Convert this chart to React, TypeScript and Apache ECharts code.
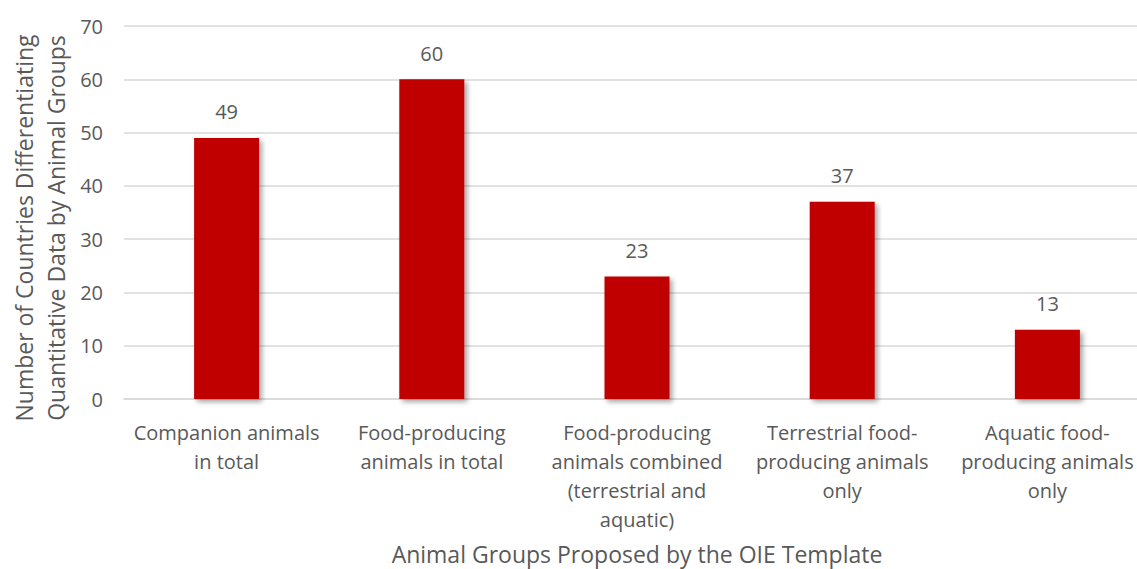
import React, { useEffect, useRef } from "react";
import * as echarts from "echarts";

const categories = [
  "Companion animals\nin total",
  "Food-producing\nanimals in total",
  "Food-producing\nanimals combined\n(terrestrial and\naquatic)",
  "Terrestrial food-\nproducing animals\nonly",
  "Aquatic food-\nproducing animals\nonly",
];
const values = [49, 60, 23, 37, 13];
const yTitle = "Number of Countries Differentiating\nQuantitative Data by Animal Groups";
const xTitle = "Animal Groups Proposed by the OIE Template";

const FONT = "'Open Sans', 'Liberation Sans', sans-serif";
const TXT = "#595959";

export default function App() {
  const ref = useRef<HTMLDivElement>(null);
  useEffect(() => {
    const chart = echarts.init(ref.current!, null, { renderer: "svg" });
    chart.setOption({
      animation: false,
      grid: { left: 124, top: 26, width: 1026, height: 373, containLabel: false, outerBoundsMode: "none" },
      graphic: [
        {
          type: "text",
          x: 40,
          y: 228,
          rotation: Math.PI / 2,
          style: {
            text: yTitle,
            fill: TXT,
            font: `23px ${FONT}`,
            fontFamily: FONT,
            fontSize: 23,
            lineHeight: 32,
            align: "center",
            verticalAlign: "middle",
          },
        },
      ],
      xAxis: {
        type: "category",
        data: categories,
        axisLine: { lineStyle: { color: "#d9d9d9", width: 1.5 } },
        axisTick: { show: false },
        axisLabel: {
          interval: 0,
          color: TXT,
          fontFamily: FONT,
          fontSize: 20,
          lineHeight: 29,
          margin: 19,
          hideOverlap: false,
        },
        name: xTitle,
        nameLocation: "middle",
        nameGap: 143,
        nameTextStyle: { color: TXT, fontFamily: FONT, fontSize: 23 },
      },
      yAxis: {
        type: "value",
        min: 0,
        max: 70,
        interval: 10,
        axisLine: { show: false },
        axisTick: { show: false },
        splitLine: { lineStyle: { color: "#d9d9d9", width: 1.5 } },
        axisLabel: { color: TXT, fontFamily: FONT, fontSize: 20, margin: 21 },
      },
      series: [
        {
          type: "bar",
          data: values,
          barWidth: 65,
          itemStyle: {
            color: "#c00000",
            shadowBlur: 5,
            shadowOffsetX: 3,
            shadowOffsetY: 3,
            shadowColor: "rgba(0,0,0,0.35)",
          },
          label: {
            show: true,
            position: "top",
            distance: 16,
            color: TXT,
            fontFamily: FONT,
            fontSize: 20,
          },
        },
      ],
    });
    return () => chart.dispose();
  }, []);
  return (
    <div
      ref={ref}
      style={{ position: "absolute", left: 0, top: 0, width: 1137, height: 569, background: "#fff" }}
    />
  );
}
